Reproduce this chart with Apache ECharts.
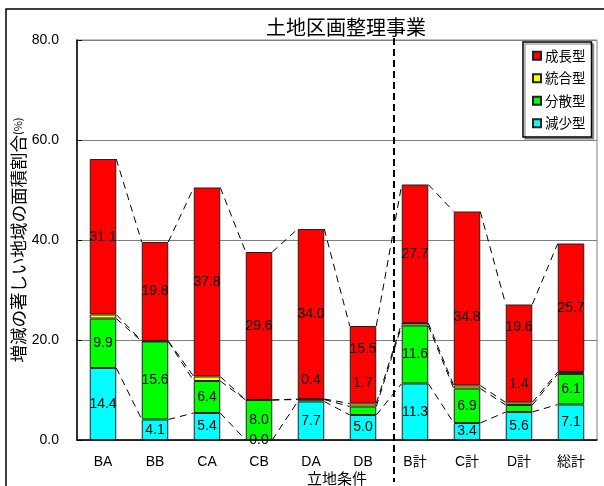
<!DOCTYPE html>
<html>
<head>
<meta charset="utf-8">
<script src="https://cdn.jsdelivr.net/npm/echarts@6/dist/echarts.min.js"></script>
<style>
  html, body { margin: 0; padding: 0; background: #fff; }
  #chart { width: 604px; height: 486px; }
</style>
</head>
<body>
<div id="chart"></div>
<script>
// 立地条件別の増減の著しい地域の面積割合（土地区画整理事業）
const categories = ['BA', 'BB', 'CA', 'CB', 'DA', 'DB', 'B計', 'C計', 'D計', '総計'];
const yTicks = [0, 20, 40, 60, 80];

// 型別の面積割合 (%)、積み上げ順（下から）
const declineType    = [14.4, 4.1, 5.4, 0.0, 7.7, 5.0, 11.3, 3.4, 5.6, 7.1];     // 減少型
const dispersedType  = [9.9, 15.6, 6.4, 8.0, 0.4, 1.7, 11.6, 6.9, 1.4, 6.1];     // 分散型
const integratedType = [0.8, 0.1, 0.9, 0.0, 0.1, 0.6, 0.5, 0.6, 0.5, 0.4];       // 統合型
const growthType     = [31.1, 19.8, 37.8, 29.6, 34.0, 15.5, 27.7, 34.8, 19.6, 25.7]; // 成長型

const FONT = "'Liberation Sans', Arial, 'Noto Sans CJK JP', sans-serif";
const CJK = "'Noto Sans CJK JP', 'Liberation Sans', sans-serif";
const BAR_RATIO = 0.51;

// 重なりを避けるために位置をずらしたデータラベル（px）
const labelShift = {
  '分散型': { 4: -20, 5: -28, 8: -24 },
  '成長型': { 5: -16, 7: 19, 8: -26 }
};

const layers = [
  { name: '減少型', values: declineType,    color: '#00FFFF', label: true },
  { name: '分散型', values: dispersedType,  color: '#00FF00', label: true },
  { name: '統合型', values: integratedType, color: '#FFFF00', label: false },
  { name: '成長型', values: growthType,     color: '#FF0000', label: true }
];

// 各層の上端（累積値）
const tops = [];
layers.reduce((acc, layer) => {
  const next = acc.map((a, i) => a + layer.values[i]);
  tops.push(next);
  return next;
}, categories.map(() => 0));

const barSeries = layers.map(layer => {
  const shift = labelShift[layer.name] || {};
  return {
    name: layer.name,
    type: 'bar',
    stack: 'total',
    barWidth: (BAR_RATIO * 100) + '%',
    itemStyle: { color: layer.color, borderColor: '#222', borderWidth: 1 },
    label: {
      show: layer.label,
      position: 'inside',
      color: '#000',
      fontFamily: FONT,
      fontSize: 14,
      formatter: p => Number(p.value).toFixed(1)
    },
    emphasis: { disabled: true },
    z: 3,
    data: layer.values.map((v, i) =>
      shift[i] !== undefined ? { value: v, label: { offset: [0, shift[i]] } } : v)
  };
});

// 隣り合う棒の同じ層の上端を結ぶ区分線
function seriesLine(params, api) {
  const i = api.value(0);
  const a = api.coord([i, api.value(1)]);
  const b = api.coord([i + 1, api.value(2)]);
  const half = api.size([1, 0])[0] * BAR_RATIO / 2;
  return {
    type: 'line',
    shape: { x1: a[0] + half, y1: a[1], x2: b[0] - half, y2: b[1] },
    style: { stroke: '#000', lineWidth: 1, lineDash: [7, 5] }
  };
}

const lineSeries = tops.map((top, k) => ({
  name: 'line' + k,
  type: 'custom',
  renderItem: seriesLine,
  encode: { x: 0, y: 1 },
  silent: true,
  z: 2,
  data: top.slice(0, -1).map((v, i) => [i, v, top[i + 1]])
}));

const chart = echarts.init(document.getElementById('chart'), null, { renderer: 'canvas' });
chart.setOption({
  animation: false,
  backgroundColor: '#fff',
  title: {
    text: '土地区画整理事業',
    left: 261,
    top: 12,
    textStyle: { fontFamily: CJK, fontSize: 20, fontWeight: 'normal', color: '#000' }
  },
  legend: {
    orient: 'vertical',
    left: 523,
    top: 42,
    width: 70,
    padding: [7, 6, 7, 9],
    itemWidth: 8,
    itemHeight: 8,
    itemGap: 9,
    icon: 'rect',
    backgroundColor: '#fff',
    borderColor: '#000',
    borderWidth: 1.5,
    shadowColor: 'rgba(0,0,0,0.35)',
    shadowOffsetX: 2,
    shadowOffsetY: 2,
    shadowBlur: 0,
    data: ['成長型', '統合型', '分散型', '減少型'],
    textStyle: { fontFamily: CJK, fontSize: 13.5, color: '#000', padding: [0, 0, 0, -1] }
  },
  grid: {
    left: 77, right: 7, top: 40, bottom: 46,
    outerBoundsMode: 'none',
    containLabel: false,
    show: true, borderColor: '#808080', borderWidth: 1
  },
  xAxis: {
    type: 'category',
    data: categories,
    name: '立地条件',
    nameLocation: 'middle',
    nameGap: 31,
    nameMoveOverlap: false,
    nameTextStyle: { fontFamily: CJK, fontSize: 15, color: '#000' },
    axisLine: { lineStyle: { color: '#000', width: 1.5 } },
    axisTick: { inside: true, length: 4, lineStyle: { color: '#000' } },
    axisLabel: { fontFamily: FONT, fontSize: 14, color: '#000', margin: 15 }
  },
  yAxis: {
    type: 'value',
    min: 0,
    max: 80,
    interval: 20,
    name: '増減の著しい地域の面積割合{p|(%)}',
    nameLocation: 'middle',
    nameRotate: 90,
    nameGap: 50,
    nameMoveOverlap: false,
    nameTextStyle: {
      fontFamily: CJK, fontSize: 17.5, color: '#000',
      rich: { p: { fontFamily: CJK, fontSize: 11, color: '#000' } }
    },
    axisLine: { show: true, lineStyle: { color: '#000', width: 1.5 } },
    axisTick: { show: true, inside: true, length: 5, lineStyle: { color: '#000' } },
    axisLabel: {
      fontFamily: FONT, fontSize: 14, color: '#000', margin: 18,
      customValues: yTicks,
      formatter: v => v.toFixed(1)
    },
    splitLine: { lineStyle: { color: '#808080', width: 1 } }
  },
  graphic: [
    {
      type: 'rect', silent: true, z: -10,
      shape: { x: 6, y: 9, width: 700, height: 600 },
      style: { fill: null, stroke: '#000', lineWidth: 1.5 }
    },
    {
      type: 'line', silent: true, z: 10,
      shape: { x1: 394, y1: 38, x2: 394, y2: 482 },
      style: { stroke: '#000', lineWidth: 2, lineDash: [7, 4] }
    }
  ],
  series: barSeries.concat(lineSeries)
});
</script>
</body>
</html>
